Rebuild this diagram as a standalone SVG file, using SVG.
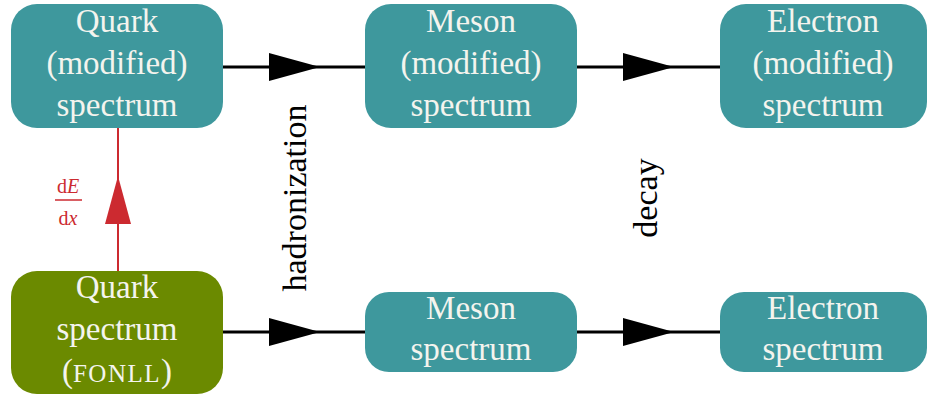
<svg xmlns="http://www.w3.org/2000/svg" width="928" height="399" viewBox="0 0 928 399">
  <defs>
    <style>
      .box { fill: #3e989d; }
      .fonll { fill: #6b8a00; }
      .lbl { font-family: "Liberation Serif", "DejaVu Serif", serif; font-size: 33px; fill: #f4f4ee; text-anchor: middle; }
      .edge { stroke: #000; stroke-width: 3; fill: none; }
      .head { fill: #000; }
      .side { font-family: "Liberation Serif", "DejaVu Serif", serif; font-size: 34px; fill: #000; text-anchor: middle; }
      .red { fill: #cc2a30; }
      .frac { font-family: "Liberation Serif", "DejaVu Serif", serif; font-size: 20px; fill: #cc2a30; text-anchor: middle; }
    </style>
  </defs>

  <!-- connectors -->
  <g id="connectors">
    <line class="edge" x1="223" y1="67" x2="365" y2="67"/>
    <polygon class="head" points="269,53 320,67 269,81"/>
    <line class="edge" x1="577" y1="67" x2="720" y2="67"/>
    <polygon class="head" points="623,53 674,67 623,81"/>
    <line class="edge" x1="223" y1="332" x2="365" y2="332"/>
    <polygon class="head" points="269,318 320,332 269,346"/>
    <line class="edge" x1="577" y1="332" x2="720" y2="332"/>
    <polygon class="head" points="623,318 674,332 623,346"/>
    <!-- energy loss: FONLL spectrum to modified quark spectrum -->
    <line x1="118" y1="271" x2="118" y2="128" stroke="#cc2a30" stroke-width="2"/>
    <polygon class="red" points="105,224 118,176 131,224"/>
    <text class="frac" x="68" y="193">d<tspan font-style="italic">E</tspan></text>
    <line x1="55" y1="200" x2="82" y2="200" stroke="#cc2a30" stroke-width="1.5"/>
    <text class="frac" x="68" y="225">d<tspan font-style="italic">x</tspan></text>
    <text class="side" transform="translate(306,198) rotate(-90)">hadronization</text>
    <text class="side" transform="translate(657,198) rotate(-90)">decay</text>
  </g>

  <g id="quark-modified">
    <rect class="box" x="11" y="4" width="212" height="124" rx="26"/>
    <text class="lbl" x="117" y="32">Quark</text>
    <text class="lbl" x="117" y="74">(modified)</text>
    <text class="lbl" x="117" y="116">spectrum</text>
  </g>

  <g id="meson-modified">
    <rect class="box" x="365" y="4" width="212" height="124" rx="26"/>
    <text class="lbl" x="471" y="32">Meson</text>
    <text class="lbl" x="471" y="74">(modified)</text>
    <text class="lbl" x="471" y="116">spectrum</text>
  </g>

  <g id="electron-modified">
    <rect class="box" x="720" y="4" width="207" height="124" rx="26"/>
    <text class="lbl" x="823" y="32">Electron</text>
    <text class="lbl" x="823" y="74">(modified)</text>
    <text class="lbl" x="823" y="116">spectrum</text>
  </g>

  <g id="quark-fonll">
    <rect class="fonll" x="11" y="271" width="212" height="123" rx="26"/>
    <text class="lbl" x="117" y="298">Quark</text>
    <text class="lbl" x="117" y="340">spectrum</text>
    <text class="lbl" x="117" y="382">(<tspan font-size="25px" letter-spacing="1.5">FONLL</tspan>)</text>
  </g>

  <g id="meson">
    <rect class="box" x="365" y="292" width="212" height="80" rx="24"/>
    <text class="lbl" x="471" y="319">Meson</text>
    <text class="lbl" x="471" y="360">spectrum</text>
  </g>

  <g id="electron">
    <rect class="box" x="720" y="292" width="207" height="80" rx="24"/>
    <text class="lbl" x="823" y="319">Electron</text>
    <text class="lbl" x="823" y="360">spectrum</text>
  </g>
</svg>
